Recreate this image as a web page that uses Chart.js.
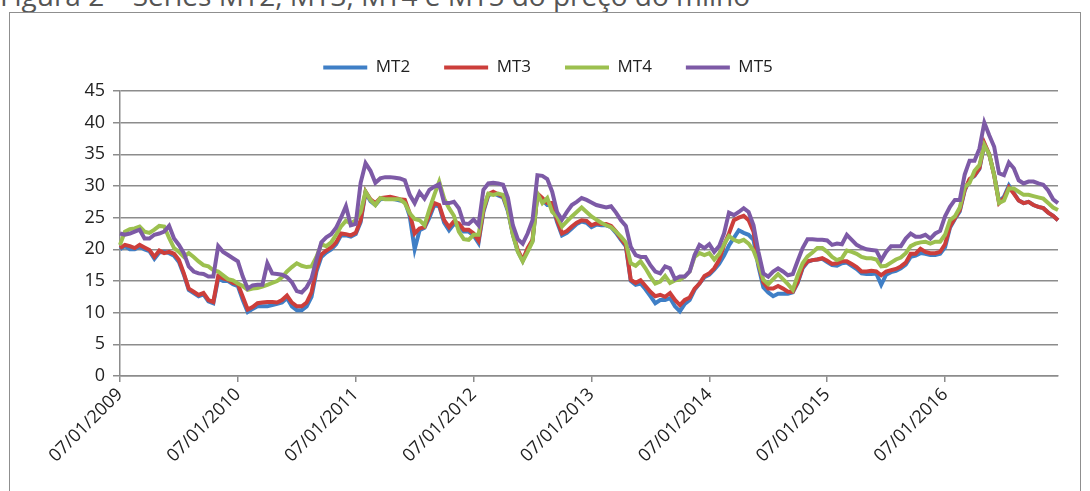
<!DOCTYPE html>
<html>
<head>
<meta charset="utf-8">
<title>MT2, MT3, MT4 e MT5</title>
<script src="https://cdn.jsdelivr.net/npm/chart.js@4.4.1/dist/chart.umd.min.js"></script>
<style>
  html, body { margin: 0; padding: 0; background: #fff; overflow: hidden; }
  #caption {
    position: absolute; left: 0; top: -24px; white-space: nowrap;
    font: 28px 'Open Sans', sans-serif; color: #555;
  }
  #frame {
    position: absolute; left: 9px; top: 12px; width: 1072px; height: 600px;
    border: 1.5px solid #8f8f8f; box-sizing: border-box;
  }
  #chartBox { position: absolute; left: 0; top: 0; width: 1090px; height: 491px; }
</style>
</head>
<body>
<div id="caption">Figura 2 – Séries MT2, MT3, MT4 e MT5 do preço do milho</div>
<div id="frame"></div>
<div id="chartBox"><canvas id="LineChartCanvas" width="1090" height="491"></canvas></div>
<script>
// x axis: roughly half-monthly points, a label every year
const yearLabels = ['07/01/2009', '07/01/2010', '07/01/2011', '07/01/2012',
  '07/01/2013', '07/01/2014', '07/01/2015', '07/01/2016'];
const pointsPerYear = 24;

const seriesNames = ['MT2', 'MT3', 'MT4', 'MT5'];
const seriesColors = ['#3f7fc6', '#cc3e3b', '#9cc04f', '#7d5aa6'];

const mt2 = [
  20.0, 20.5, 20.0, 20.0, 20.4, 20.0, 19.7, 18.5, 19.5, 19.6, 19.4, 19.0, 18.0, 16.0, 13.6, 13.1, 12.6, 12.9, 11.8, 11.5, 15.4, 15.0, 15.0, 14.5, 14.2, 12.0, 10.1, 10.6, 11.0, 11.0, 11.0, 11.2, 11.4,
  11.6, 12.3, 11.0, 10.4, 10.4, 11.0, 12.5, 16.5, 18.8, 19.5, 20.0, 20.8, 22.2, 22.2, 22.0, 22.4, 24.3, 29.0, 27.6, 27.0, 27.9, 28.0, 28.0, 27.9, 27.7, 27.6, 25.2, 20.0, 23.0, 23.4, 25.0, 27.0,
  26.8, 24.2, 23.0, 24.0, 23.7, 22.8, 22.8, 22.2, 21.0, 25.9, 28.5, 28.9, 28.5, 28.2, 26.0, 22.3, 19.7, 18.2, 20.0, 21.3, 28.6, 27.8, 27.0, 27.0, 24.3, 22.2, 22.6, 23.3, 24.0, 24.4, 24.2, 23.5,
  23.9, 23.8, 23.8, 23.5, 22.6, 21.5, 20.5, 15.0, 14.4, 14.6, 13.7, 12.6, 11.5, 12.0, 12.0, 12.3, 11.0, 10.2, 11.4, 12.0, 13.6, 14.6, 15.6, 16.0, 16.8, 17.7, 19.0, 20.6, 21.8, 23.0, 22.6, 22.3, 21.5,
  17.3, 14.0, 13.2, 12.6, 13.0, 13.0, 13.0, 13.2, 14.7, 17.0, 18.0, 18.3, 18.4, 18.5, 18.0, 17.5, 17.4, 17.8, 17.9, 17.4, 16.9, 16.2, 16.1, 16.1, 16.2, 14.4, 16.0, 16.4, 16.6, 17.0, 17.6, 18.8,
  19.0, 19.4, 19.3, 19.1, 19.1, 19.3, 20.3, 23.4, 24.8, 26.0, 29.3, 31.0, 31.6, 32.7, 36.6, 35.0, 31.8, 27.5, 28.3, 30.1, 28.9, 27.7, 27.3, 27.5, 27.0, 26.7, 26.5, 25.8, 25.3, 24.6,
];

const mt3 = [
  20.2, 20.7, 20.5, 20.2, 20.7, 20.3, 19.9, 18.8, 19.8, 19.4, 19.6, 19.3, 18.3, 16.2, 13.8, 13.3, 12.8, 13.1, 12.0, 11.7, 15.8, 15.4, 15.2, 14.7, 14.5, 12.5, 10.5, 10.9, 11.5, 11.6, 11.7, 11.7, 11.6,
  12.0, 12.7, 11.6, 11.0, 11.0, 11.6, 13.2, 17.0, 19.2, 19.8, 20.3, 21.1, 22.5, 22.4, 22.2, 22.6, 24.6, 29.1, 27.9, 27.3, 28.1, 28.2, 28.3, 28.1, 27.9, 27.8, 25.7, 22.5, 23.3, 23.5, 25.5, 27.3,
  27.0, 24.6, 23.5, 24.4, 24.1, 23.1, 23.1, 22.5, 21.4, 26.2, 28.7, 29.1, 28.7, 28.4, 26.3, 22.5, 19.9, 18.3, 20.2, 21.5, 28.8, 28.1, 27.3, 27.3, 24.6, 22.5, 22.9, 23.6, 24.2, 24.6, 24.5, 23.8,
  24.1, 24.0, 24.0, 23.7, 22.8, 21.7, 20.7, 15.2, 14.7, 15.1, 14.2, 13.3, 12.6, 12.8, 12.5, 13.1, 12.0, 11.2, 12.0, 12.4, 13.8, 14.6, 15.8, 16.2, 17.0, 18.3, 20.7, 22.5, 24.6, 25.0, 25.3, 24.6, 22.8,
  17.8, 14.8, 13.8, 13.8, 14.2, 13.8, 13.3, 13.3, 14.9, 17.2, 18.1, 18.3, 18.4, 18.6, 18.2, 17.7, 17.8, 18.1, 18.1, 17.7, 17.2, 16.5, 16.5, 16.6, 16.5, 15.9, 16.5, 16.7, 16.9, 17.3, 17.9, 19.3,
  19.3, 20.1, 19.6, 19.4, 19.4, 19.6, 20.8, 23.6, 24.9, 26.2, 29.4, 31.1, 31.7, 32.8, 36.8, 35.0, 31.7, 27.3, 28.1, 29.8, 28.8, 27.7, 27.3, 27.5, 27.0, 26.7, 26.5, 25.8, 25.3, 24.6,
];

const mt4 = [
  20.7, 22.8, 23.2, 23.3, 23.6, 22.8, 22.6, 23.1, 23.7, 23.6, 21.8, 20.2, 19.6, 18.8, 19.4, 18.8, 18.1, 17.5, 17.3, 16.7, 16.5, 15.9, 15.3, 15.1, 14.6, 14.2, 13.6, 13.8, 13.9, 14.1, 14.4, 14.7, 15.0,
  15.6, 16.5, 17.2, 17.8, 17.4, 17.2, 17.3, 18.8, 20.8, 20.5, 21.1, 22.3, 23.6, 24.5, 24.1, 24.6, 25.9, 29.1, 27.8, 27.0, 28.1, 27.9, 27.9, 27.9, 27.9, 27.3, 25.7, 24.8, 24.6, 23.8, 26.3, 28.6,
  30.7, 28.0, 26.5, 25.3, 22.8, 21.6, 21.5, 22.3, 22.3, 26.5, 28.8, 28.6, 28.8, 28.6, 26.2, 22.3, 19.6, 18.1, 19.6, 21.2, 28.8, 27.3, 28.1, 25.9, 25.2, 23.6, 24.4, 25.2, 25.9, 26.6, 25.9, 25.2,
  24.7, 24.2, 23.8, 23.5, 22.8, 22.0, 21.1, 17.8, 17.4, 18.1, 17.0, 15.7, 14.6, 14.9, 15.8, 14.7, 15.1, 15.2, 15.7, 16.5, 18.8, 19.4, 19.1, 19.4, 18.4, 19.3, 20.8, 22.1, 21.5, 21.2, 21.5, 20.9, 19.8,
  17.8, 15.2, 14.5, 15.3, 16.1, 15.3, 14.5, 13.6, 15.9, 17.8, 18.9, 19.5, 20.2, 20.2, 19.6, 18.8, 18.3, 18.6, 19.8, 19.6, 19.3, 18.8, 18.6, 18.6, 18.4, 17.3, 17.4, 17.9, 18.4, 18.7, 19.4, 20.5,
  20.9, 21.1, 21.2, 20.9, 21.2, 21.2, 22.3, 24.6, 25.2, 26.6, 29.8, 30.5, 32.4, 33.3, 36.5, 35.0, 31.7, 27.3, 27.7, 29.6, 29.6, 29.1, 28.6, 28.6, 28.4, 28.2, 28.0, 27.3, 26.6, 26.2,
];

const mt5 = [
  22.5, 22.3, 22.5, 22.8, 23.1, 21.7, 21.7, 22.3, 22.5, 22.8, 23.7, 21.7, 20.7, 19.4, 17.3, 16.5, 16.2, 16.1, 15.7, 15.7, 20.5, 19.6, 19.1, 18.6, 18.1, 15.7, 13.8, 14.3, 14.4, 14.4, 17.8, 16.2, 16.1,
  16.0, 15.6, 14.8, 13.4, 13.2, 14.0, 15.4, 18.4, 21.1, 21.9, 22.4, 23.4, 25.0, 26.8, 23.8, 24.0, 30.5, 33.6, 32.4, 30.5, 31.2, 31.4, 31.4, 31.3, 31.2, 30.9, 28.6, 27.3, 29.0, 28.0, 29.4, 29.9,
  30.3, 27.3, 27.3, 27.5, 26.5, 24.1, 24.0, 24.7, 23.8, 29.4, 30.4, 30.5, 30.4, 30.2, 28.1, 23.8, 21.6, 20.9, 22.5, 24.6, 31.7, 31.6, 31.1, 29.1, 25.9, 24.7, 25.9, 27.0, 27.5, 28.1, 27.8, 27.4,
  27.0, 26.8, 26.6, 26.8, 25.8, 24.6, 23.7, 20.4, 19.1, 18.8, 18.8, 17.5, 16.5, 16.2, 17.3, 17.0, 15.3, 15.7, 15.7, 16.5, 19.1, 20.7, 20.2, 20.8, 19.6, 20.5, 22.5, 25.8, 25.4, 25.9, 26.5, 25.9, 23.8,
  19.6, 16.2, 15.7, 16.5, 17.0, 16.5, 15.9, 16.1, 18.2, 20.2, 21.6, 21.6, 21.5, 21.5, 21.4, 20.7, 20.9, 20.8, 22.3, 21.5, 20.7, 20.3, 20.0, 19.9, 19.8, 18.3, 19.6, 20.5, 20.5, 20.5, 21.7, 22.5,
  22.0, 22.0, 22.3, 21.7, 22.5, 22.9, 25.2, 26.7, 27.8, 27.8, 31.8, 34.0, 34.0, 35.9, 40.0, 38.0, 36.2, 32.0, 31.7, 33.7, 32.8, 30.9, 30.4, 30.7, 30.7, 30.4, 30.2, 29.3, 27.9, 27.3,
];

const yTicks = [0, 5, 10, 15, 20, 25, 30, 35, 40, 45];

const FONT = "'Open Sans', 'DejaVu Sans', sans-serif";
const GRID_COLOR = '#8c8c8c';

// one category per point, only the year starts carry a label
const labels = mt2.map((v, i) =>
  i % pointsPerYear === 0 ? yearLabels[i / pointsPerYear] || '' : ''
);

const dataSet = [mt2, mt3, mt4, mt5].map((values, i) => ({
  label: seriesNames[i],
  data: values,
  borderColor: seriesColors[i],
  backgroundColor: seriesColors[i],
  borderWidth: 4,
  pointRadius: 0,
  tension: 0,
  fill: false,
  order: 4 - i, // MT5 painted last (on top)
}));

// legend box takes a fixed height so the plot starts where the original does,
// and sits a little right of the canvas centre like the original
const legendHeight = {
  id: 'legendHeight',
  beforeInit(chart) {
    const fit = chart.legend.fit;
    chart.legend.fit = function () {
      fit.bind(chart.legend)();
      this.height = 66;
    };
  },
  afterLayout(chart) {
    chart.legend.left += 14;
    chart.legend.right += 14;
  },
};

new Chart(document.getElementById('LineChartCanvas').getContext('2d'), {
  type: 'line',
  data: { labels, datasets: dataSet },
  plugins: [legendHeight],
  options: {
    responsive: false,
    animation: false,
    devicePixelRatio: 1,
    layout: { padding: { left: 10, right: 32, top: 25, bottom: 0 } },
    plugins: {
      tooltip: { enabled: false },
      legend: {
        position: 'top',
        labels: {
          boxWidth: 44,
          boxHeight: 4,
          padding: 34,
          color: '#222',
          font: { family: FONT, size: 17 },
          generateLabels(chart) {
            return chart.data.datasets.map((ds, i) => ({
              text: ds.label,
              fillStyle: ds.borderColor,
              strokeStyle: ds.borderColor,
              lineWidth: 0,
              fontColor: '#222',
              hidden: false,
              datasetIndex: i,
            }));
          },
        },
      },
    },
    scales: {
      x: {
        type: 'category',
        offset: false,
        afterBuildTicks(scale) {
          scale.ticks = scale.ticks.filter(t => t.value % pointsPerYear === 0);
        },
        afterFit(scale) {
          scale.height = 115;
        },
        grid: {
          drawOnChartArea: false,
          drawTicks: true,
          tickLength: 6,
          color: GRID_COLOR,
          lineWidth: 1.5,
        },
        border: { color: GRID_COLOR, width: 1.5 },
        ticks: {
          autoSkip: false,
          minRotation: 45,
          maxRotation: 45,
          padding: 2,
          color: '#222',
          font: { family: FONT, size: 18 },
        },
      },
      y: {
        min: 0,
        max: 45,
        afterFit(scale) {
          scale.width = 110;
        },
        afterBuildTicks(scale) {
          scale.ticks = yTicks.map(value => ({ value }));
        },
        grid: {
          color: GRID_COLOR,
          lineWidth: 1.5,
          tickLength: 7,
        },
        border: { color: GRID_COLOR, width: 1.5 },
        ticks: {
          padding: 8,
          color: '#222',
          font: { family: FONT, size: 18 },
        },
      },
    },
  },
});
</script>
</body>
</html>
